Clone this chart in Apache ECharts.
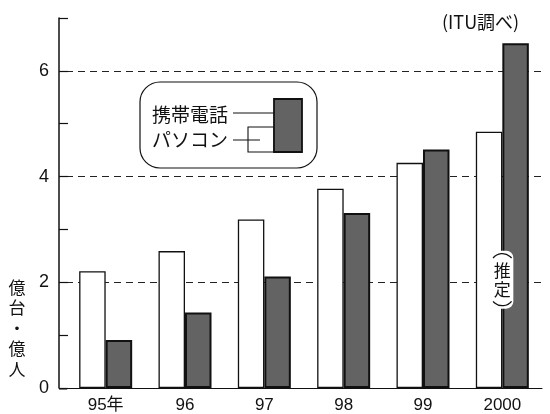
<!DOCTYPE html>
<html>
<head>
<meta charset="utf-8">
<script src="https://cdn.jsdelivr.net/npm/echarts@6/dist/echarts.min.js"></script>
<style>
  html, body { margin: 0; padding: 0; background: #fff; }
  #chart { width: 550px; height: 414px; }
</style>
</head>
<body>
<div id="chart"></div>
<script>
// Years on the category axis
const categories = ['95年', '96', '97', '98', '99', '2000'];
// Personal computers (億台) and mobile phones (億人)
const seriesNames = ['パソコン', '携帯電話'];
const pcValues = [2.21, 2.59, 3.19, 3.77, 4.26, 4.85];
const mobileValues = [0.91, 1.43, 2.11, 3.31, 4.51, 6.52];
// Values that carry a tick label; dashed guides every 2 units
const labeledTicks = [0, 2, 4, 6];
const guideStep = 2;
const sourceNote = '(ITU調べ)';
const unitName = '億台・億人';
const estimateNote = '推定';
// the estimate tag sits on the last year, at this height on the value axis
const estimateAt = [categories.length - 1, 2.05];

const latin = '"Liberation Sans", Arial, sans-serif';
const cjk = '"Noto Sans CJK JP", sans-serif';
const darkFill = '#636363';

const chart = echarts.init(document.getElementById('chart'), null, { renderer: 'canvas' });

chart.setOption({
  animation: false,
  backgroundColor: '#fff',
  grid: { left: 66, top: 18, width: 476, height: 371, containLabel: false },
  xAxis: {
    type: 'category',
    data: categories,
    axisLine: { lineStyle: { color: '#111', width: 1 } },
    axisTick: { show: false },
    axisLabel: { fontFamily: latin + ',' + cjk, fontSize: 17, color: '#111', margin: 9 }
  },
  yAxis: [
    {
      type: 'value',
      min: 0,
      max: 7,
      interval: 1,
      offset: 7,
      axisLine: { show: true, lineStyle: { color: '#111', width: 1.5 } },
      axisTick: { show: true, inside: true, length: 9, lineStyle: { color: '#111', width: 1.2 } },
      axisLabel: {
        fontFamily: latin, fontSize: 18, color: '#111', margin: 10,
        formatter: v => labeledTicks.includes(v) ? String(v) : ''
      },
      splitLine: { show: false }
    },
    {
      // dashed guides only
      type: 'value',
      position: 'left',
      min: 0,
      max: 7,
      interval: guideStep,
      axisLine: { show: false },
      axisTick: { show: false },
      axisLabel: { show: false },
      splitLine: {
        show: true,
        showMinLine: false,
        showMaxLine: false,
        lineStyle: { type: [7, 5], color: '#222', width: 1 }
      }
    }
  ],
  series: [
    {
      name: seriesNames[0],
      type: 'bar',
      data: pcValues,
      barWidth: 26.5,
      barGap: '0%',
      itemStyle: { color: '#fff', borderColor: '#111', borderWidth: 1.3 }
    },
    {
      name: seriesNames[1],
      type: 'bar',
      data: mobileValues,
      barWidth: 26.5,
      barGap: '0%',
      itemStyle: { color: darkFill, borderColor: '#111', borderWidth: 2 }
    }
  ]
});

// "(推定)" tag position, taken from the axes
const at = chart.convertToPixel({ gridIndex: 0 }, estimateAt);

chart.setOption({
  graphic: [
    // baseline stub joining the offset value axis to the category axis
    { type: 'line', shape: { x1: 59, y1: 389, x2: 67, y2: 389 }, style: { stroke: '#111', lineWidth: 1 } },
    // source note
    { type: 'text', x: 442, y: 22, style: { text: sourceNote, font: '18px ' + cjk, fill: '#111', verticalAlign: 'middle' } },
    // unit name, stacked vertically
    {
      type: 'text', x: 17, y: 277,
      style: {
        text: unitName.split('').join('\n'), font: '17px ' + cjk, fill: '#111',
        align: 'center', verticalAlign: 'top', lineHeight: 20.5
      }
    },
    // legend panel
    {
      type: 'group',
      children: [
        { type: 'rect', shape: { x: 140, y: 82, width: 177, height: 86, r: 20 }, style: { fill: '#fff', stroke: '#111', lineWidth: 1.2 }, z: 10 },
        { type: 'text', x: 152, y: 115, style: { text: seriesNames[1], font: '19px ' + cjk, fill: '#111', verticalAlign: 'middle' }, z: 11 },
        { type: 'text', x: 152, y: 140, style: { text: seriesNames[0], font: '19px ' + cjk, fill: '#111', verticalAlign: 'middle' }, z: 11 },
        { type: 'line', shape: { x1: 233, y1: 113, x2: 274, y2: 113 }, style: { stroke: '#111', lineWidth: 1 }, z: 11 },
        { type: 'rect', shape: { x: 248, y: 127, width: 26, height: 25 }, style: { fill: '#fff', stroke: '#111', lineWidth: 1.1 }, z: 11 },
        { type: 'line', shape: { x1: 233, y1: 140, x2: 260, y2: 140 }, style: { stroke: '#111', lineWidth: 1 }, z: 12 },
        { type: 'rect', shape: { x: 274, y: 99, width: 28, height: 53 }, style: { fill: darkFill, stroke: '#111', lineWidth: 1.8 }, z: 12 }
      ]
    },
    // vertical "(推定)" tag with arc-shaped brackets above and below
    {
      type: 'group',
      x: at[0],
      y: at[1],
      children: [
        { type: 'rect', shape: { x: -11, y: -29, width: 22, height: 58, r: 7 }, style: { fill: '#fff' }, z: 20 },
        {
          type: 'text', x: 0, y: 0, z: 21,
          style: {
            text: estimateNote.split('').join('\n'), font: '17px ' + cjk, fill: '#111',
            align: 'center', verticalAlign: 'middle', lineHeight: 19
          }
        },
        { type: 'arc', z: 21, shape: { cx: 0, cy: -14, r: 12, startAngle: Math.PI * 1.22, endAngle: Math.PI * 1.78, clockwise: true }, style: { stroke: '#111', lineWidth: 1.3, fill: null } },
        { type: 'arc', z: 21, shape: { cx: 0, cy: 14, r: 12, startAngle: Math.PI * 0.22, endAngle: Math.PI * 0.78, clockwise: true }, style: { stroke: '#111', lineWidth: 1.3, fill: null } }
      ]
    }
  ]
});
</script>
</body>
</html>
